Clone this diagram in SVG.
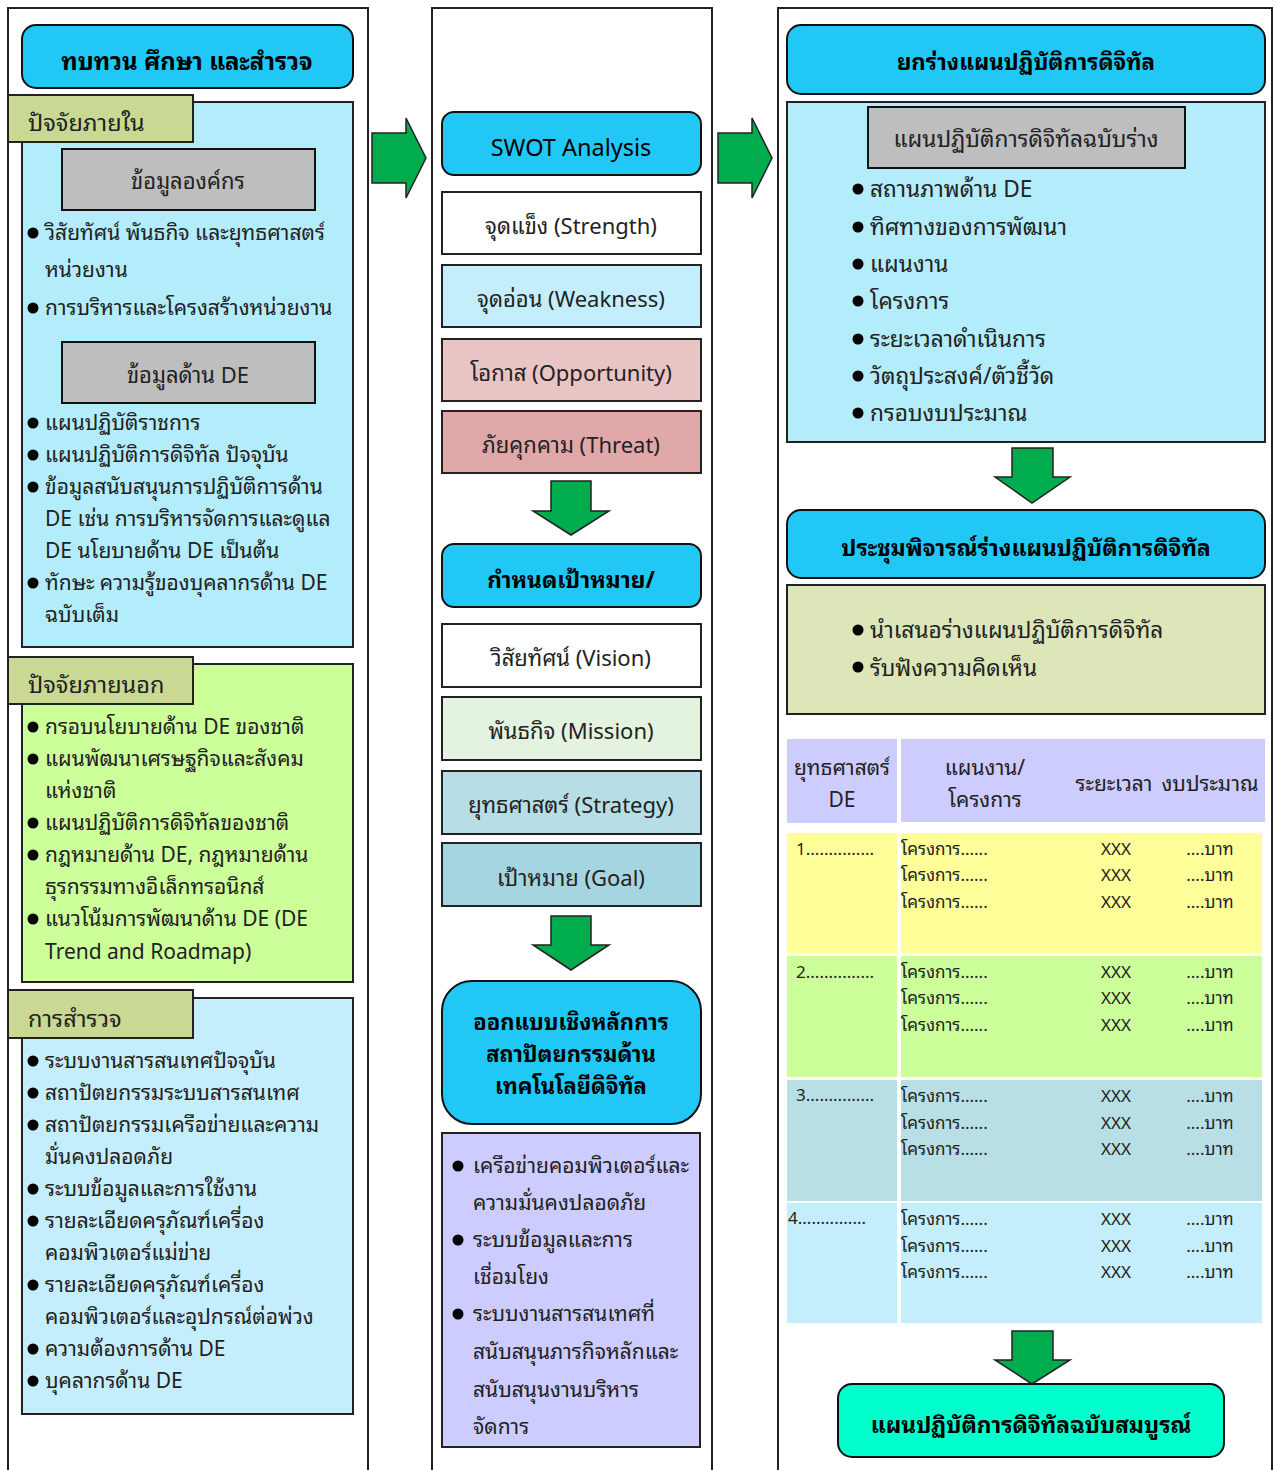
<svg xmlns="http://www.w3.org/2000/svg" width="1277" height="1470" viewBox="0 0 1277 1470">
<style>
text{font-family:"Noto Sans Thai Looped","Loma","Garuda","Noto Sans Thai","Noto Sans","DejaVu Sans",sans-serif;font-size:21px;fill:#222}
.b{font-weight:bold;fill:#000;font-size:22.7px}
.c{text-anchor:middle}
.col{fill:#fff;stroke:#222;stroke-width:2}
.hd{fill:#22C8F5;stroke:#111;stroke-width:2}
.lbl{fill:#C9D994;stroke:#222;stroke-width:2}
.bx{stroke:#222;stroke-width:2}
.gr{fill:#BEBEBE;stroke:#111;stroke-width:2}
.arr{fill:#00AC4E;stroke:#222;stroke-width:1.5}
.t{font-size:17px}
.lt{font-size:23.5px}
.m{font-size:22px}
.r{font-size:22.7px}
.th{font-size:21px}
.d{font-size:22px}
</style>
<g id="columns">
<rect class="col" x="8" y="8" width="360" height="1470"/>
<rect class="col" x="432" y="8" width="280" height="1470"/>
<rect class="col" x="778" y="8" width="494" height="1470"/>
</g>
<g id="connectors">
<path class="arr" d="M372,133 H406 V118 L426,158 L406,198 V183 H372 Z"/>
<path class="arr" d="M718,133 H752 V118 L772,158 L752,198 V183 H718 Z"/>
<path class="arr" d="M551,481 H591 V511 H609 L571,535 L533,511 H551 Z"/>
<path class="arr" d="M551,916 H591 V945 H609 L571,970 L533,945 H551 Z"/>
<path class="arr" d="M1012,448 H1053 V477 H1070 L1032,503 L995,477 H1012 Z"/>
<path class="arr" d="M1012,1331 H1053 V1360 H1070 L1032,1384 L995,1360 H1012 Z"/>
</g>
<g id="review">
<rect class="hd" x="22" y="25" width="331" height="63" rx="14"/>
<text class="b c" x="187" y="70" style="font-size:24px">ทบทวน ศึกษา และสำรวจ</text>
</g>
<g id="internal">
<rect class="bx" fill="#B3ECFA" x="22" y="102" width="331" height="545"/>
<rect class="lbl" x="8" y="95" width="185" height="47"/>
<text class="lt" x="28" y="131">ปัจจัยภายใน</text>
<rect class="gr" x="62" y="149" width="253" height="61"/>
<text class="c m" x="188" y="189">ข้อมูลองค์กร</text>
<g>
<circle cx="33" cy="233" r="5.5"/><text x="45" y="240">วิสัยทัศน์ พันธกิจ และยุทธศาสตร์</text>
<text x="45" y="277">หน่วยงาน</text>
<circle cx="33" cy="308" r="5.5"/><text x="45" y="315">การบริหารและโครงสร้างหน่วยงาน</text>
</g>
<rect class="gr" x="62" y="342" width="253" height="61"/>
<text class="c m" x="188" y="383">ข้อมูลด้าน DE</text>
<g>
<circle cx="33" cy="423" r="5.5"/><text x="45" y="430">แผนปฏิบัติราชการ</text>
<circle cx="33" cy="455" r="5.5"/><text x="45" y="462">แผนปฏิบัติการดิจิทัล ปัจจุบัน</text>
<circle cx="33" cy="487" r="5.5"/><text x="45" y="494">ข้อมูลสนับสนุนการปฏิบัติการด้าน</text>
<text x="45" y="526">DE เช่น การบริหารจัดการและดูแล</text>
<text x="45" y="558">DE นโยบายด้าน DE เป็นต้น</text>
<circle cx="33" cy="583" r="5.5"/><text x="45" y="590">ทักษะ ความรู้ของบุคลากรด้าน DE</text>
<text x="45" y="622">ฉบับเต็ม</text>
</g>
</g>
<g id="external">
<rect class="bx" fill="#CCFF99" x="22" y="664" width="331" height="318"/>
<rect class="lbl" x="8" y="657" width="185" height="47"/>
<text class="lt" x="28" y="693">ปัจจัยภายนอก</text>
<circle cx="33" cy="727" r="5.5"/><text x="45" y="734">กรอบนโยบายด้าน DE ของชาติ</text>
<circle cx="33" cy="759" r="5.5"/><text x="45" y="766">แผนพัฒนาเศรษฐกิจและสังคม</text>
<text x="45" y="798">แห่งชาติ</text>
<circle cx="33" cy="823" r="5.5"/><text x="45" y="830">แผนปฏิบัติการดิจิทัลของชาติ</text>
<circle cx="33" cy="855" r="5.5"/><text x="45" y="862">กฎหมายด้าน DE, กฎหมายด้าน</text>
<text x="45" y="894">ธุรกรรมทางอิเล็กทรอนิกส์</text>
<circle cx="33" cy="919" r="5.5"/><text x="45" y="926">แนวโน้มการพัฒนาด้าน DE (DE</text>
<text x="45" y="959">Trend and Roadmap)</text>
</g>
<g id="survey">
<rect class="bx" fill="#C5EEFC" x="22" y="998" width="331" height="416"/>
<rect class="lbl" x="8" y="990" width="185" height="48"/>
<text class="lt" x="28" y="1027">การสำรวจ</text>
<circle cx="33" cy="1061" r="5.5"/><text x="45" y="1068">ระบบงานสารสนเทศปัจจุบัน</text>
<circle cx="33" cy="1093" r="5.5"/><text x="45" y="1100">สถาปัตยกรรมระบบสารสนเทศ</text>
<circle cx="33" cy="1125" r="5.5"/><text x="45" y="1132">สถาปัตยกรรมเครือข่ายและความ</text>
<text x="45" y="1164">มั่นคงปลอดภัย</text>
<circle cx="33" cy="1189" r="5.5"/><text x="45" y="1196">ระบบข้อมูลและการใช้งาน</text>
<circle cx="33" cy="1221" r="5.5"/><text x="45" y="1228">รายละเอียดครุภัณฑ์เครื่อง</text>
<text x="45" y="1260">คอมพิวเตอร์แม่ข่าย</text>
<circle cx="33" cy="1285" r="5.5"/><text x="45" y="1292">รายละเอียดครุภัณฑ์เครื่อง</text>
<text x="45" y="1324">คอมพิวเตอร์และอุปกรณ์ต่อพ่วง</text>
<circle cx="33" cy="1349" r="5.5"/><text x="45" y="1356">ความต้องการด้าน DE</text>
<circle cx="33" cy="1381" r="5.5"/><text x="45" y="1388">บุคลากรด้าน DE</text>
</g>
<g id="swot">
<rect class="hd" x="442" y="112" width="259" height="63" rx="12"/>
<text class="c" x="571" y="156" style="font-size:23.5px;fill:#000">SWOT Analysis</text>
</g>
<g id="strength"><rect class="bx" fill="#fff" x="442" y="192" width="259" height="62"/><text class="c m" x="571" y="234">จุดแข็ง (Strength)</text></g>
<g id="weakness"><rect class="bx" fill="#C5EEFC" x="442" y="265" width="259" height="62"/><text class="c m" x="571" y="307">จุดอ่อน (Weakness)</text></g>
<g id="opportunity"><rect class="bx" fill="#E8C4C4" x="442" y="339" width="259" height="62"/><text class="c m" x="571" y="381">โอกาส (Opportunity)</text></g>
<g id="threat"><rect class="bx" fill="#E0A8A8" x="442" y="411" width="259" height="62"/><text class="c m" x="571" y="453">ภัยคุกคาม (Threat)</text></g>
<g id="goal-set">
<rect class="hd" x="442" y="544" width="259" height="63" rx="12"/>
<text class="b c" x="571" y="588">กำหนดเป้าหมาย/</text>
</g>
<g id="vision"><rect class="bx" fill="#fff" x="442" y="624" width="259" height="63"/><text class="c m" x="571" y="666">วิสัยทัศน์ (Vision)</text></g>
<g id="mission"><rect class="bx" fill="#E4F2E0" x="442" y="697" width="259" height="63"/><text class="c m" x="571" y="739">พันธกิจ (Mission)</text></g>
<g id="strategy"><rect class="bx" fill="#B7DEE6" x="442" y="771" width="259" height="63"/><text class="c m" x="571" y="813">ยุทธศาสตร์ (Strategy)</text></g>
<g id="goal"><rect class="bx" fill="#A5D5E0" x="442" y="843" width="259" height="63"/><text class="c m" x="571" y="886">เป้าหมาย (Goal)</text></g>
<g id="design">
<rect class="hd" x="442" y="981" width="259" height="143" rx="30"/>
<text class="b c d" x="571" y="1030">ออกแบบเชิงหลักการ</text>
<text class="b c d" x="571" y="1062">สถาปัตยกรรมด้าน</text>
<text class="b c d" x="571" y="1094">เทคโนโลยีดิจิทัล</text>
</g>
<g id="design-items">
<rect class="bx" fill="#CCCCFF" x="442" y="1133" width="258" height="314"/>
<circle cx="458" cy="1166" r="5.5"/><text class="th" x="473" y="1173">เครือข่ายคอมพิวเตอร์และ</text>
<text x="473" y="1210">ความมั่นคงปลอดภัย</text>
<circle cx="458" cy="1240" r="5.5"/><text x="473" y="1247">ระบบข้อมูลและการ</text>
<text x="473" y="1284">เชื่อมโยง</text>
<circle cx="458" cy="1314" r="5.5"/><text x="473" y="1321">ระบบงานสารสนเทศที่</text>
<text x="473" y="1359">สนับสนุนภารกิจหลักและ</text>
<text x="473" y="1397">สนับสนุนงานบริหาร</text>
<text x="473" y="1434">จัดการ</text>
</g>
<g id="draft">
<rect class="hd" x="787" y="25" width="478" height="69" rx="14"/>
<text class="b c" x="1026" y="70" style="font-size:22.3px">ยกร่างแผนปฏิบัติการดิจิทัล</text>
</g>
<g id="draft-items">
<rect class="bx" fill="#B3ECFA" x="787" y="102" width="478" height="340"/>
<rect class="gr" x="868" y="107" width="317" height="61"/>
<text class="c r" x="1026" y="147">แผนปฏิบัติการดิจิทัลฉบับร่าง</text>
<circle cx="858" cy="189" r="5.5"/><text class="r" x="870" y="197">สถานภาพด้าน DE</text>
<circle cx="858" cy="227" r="5.5"/><text class="r" x="870" y="235">ทิศทางของการพัฒนา</text>
<circle cx="858" cy="264" r="5.5"/><text class="r" x="870" y="272">แผนงาน</text>
<circle cx="858" cy="301" r="5.5"/><text class="r" x="870" y="309">โครงการ</text>
<circle cx="858" cy="339" r="5.5"/><text class="r" x="870" y="347">ระยะเวลาดำเนินการ</text>
<circle cx="858" cy="376" r="5.5"/><text class="r" x="870" y="384">วัตถุประสงค์/ตัวชี้วัด</text>
<circle cx="858" cy="413" r="5.5"/><text class="r" x="870" y="421">กรอบงบประมาณ</text>
</g>
<g id="meeting">
<rect class="hd" x="787" y="510" width="478" height="68" rx="14"/>
<text class="b c" x="1026" y="556">ประชุมพิจารณ์ร่างแผนปฏิบัติการดิจิทัล</text>
</g>
<g id="meeting-items">
<rect class="bx" fill="#DCE6B8" x="787" y="585" width="478" height="129"/>
<circle cx="858" cy="630" r="5.5"/><text class="r" x="870" y="638">นำเสนอร่างแผนปฏิบัติการดิจิทัล</text>
<circle cx="858" cy="667" r="5.5"/><text class="r" x="870" y="676">รับฟังความคิดเห็น</text>
</g>
<g id="plan-table">
<rect fill="#CCCCFF" x="787" y="739" width="110" height="84"/>
<rect fill="#CCCCFF" x="901" y="739" width="364" height="83"/>
<text class="c" x="842" y="775">ยุทธศาสตร์</text>
<text class="c" x="842" y="807">DE</text>
<text class="c" x="985" y="775">แผนงาน/</text>
<text class="c" x="985" y="807">โครงการ</text>
<text class="c" x="1114" y="791">ระยะเวลา</text>
<text class="c" x="1210" y="791">งบประมาณ</text>
<rect fill="#FFFF99" x="787" y="833" width="110" height="120"/>
<rect fill="#FFFF99" x="901" y="833" width="361" height="120"/>
<rect fill="#CCFF99" x="787" y="956" width="110" height="121"/>
<rect fill="#CCFF99" x="901" y="956" width="361" height="121"/>
<rect fill="#B8DFE6" x="787" y="1080" width="110" height="121"/>
<rect fill="#B8DFE6" x="901" y="1080" width="361" height="121"/>
<rect fill="#C5EEFC" x="787" y="1203" width="110" height="120"/>
<rect fill="#C5EEFC" x="901" y="1203" width="361" height="120"/>
<text class="t" x="796" y="855">1...............</text>
<text class="t" x="796" y="978">2...............</text>
<text class="t" x="796" y="1101">3...............</text>
<text class="t" x="788" y="1224">4...............</text>
<text class="t" x="901" y="855">โครงการ......</text><text class="t c" x="1116" y="855">XXX</text><text class="t c" x="1210" y="855">....บาท</text>
<text class="t" x="901" y="881">โครงการ......</text><text class="t c" x="1116" y="881">XXX</text><text class="t c" x="1210" y="881">....บาท</text>
<text class="t" x="901" y="908">โครงการ......</text><text class="t c" x="1116" y="908">XXX</text><text class="t c" x="1210" y="908">....บาท</text>
<text class="t" x="901" y="978">โครงการ......</text><text class="t c" x="1116" y="978">XXX</text><text class="t c" x="1210" y="978">....บาท</text>
<text class="t" x="901" y="1004">โครงการ......</text><text class="t c" x="1116" y="1004">XXX</text><text class="t c" x="1210" y="1004">....บาท</text>
<text class="t" x="901" y="1031">โครงการ......</text><text class="t c" x="1116" y="1031">XXX</text><text class="t c" x="1210" y="1031">....บาท</text>
<text class="t" x="901" y="1102">โครงการ......</text><text class="t c" x="1116" y="1102">XXX</text><text class="t c" x="1210" y="1102">....บาท</text>
<text class="t" x="901" y="1129">โครงการ......</text><text class="t c" x="1116" y="1129">XXX</text><text class="t c" x="1210" y="1129">....บาท</text>
<text class="t" x="901" y="1155">โครงการ......</text><text class="t c" x="1116" y="1155">XXX</text><text class="t c" x="1210" y="1155">....บาท</text>
<text class="t" x="901" y="1225">โครงการ......</text><text class="t c" x="1116" y="1225">XXX</text><text class="t c" x="1210" y="1225">....บาท</text>
<text class="t" x="901" y="1252">โครงการ......</text><text class="t c" x="1116" y="1252">XXX</text><text class="t c" x="1210" y="1252">....บาท</text>
<text class="t" x="901" y="1278">โครงการ......</text><text class="t c" x="1116" y="1278">XXX</text><text class="t c" x="1210" y="1278">....บาท</text>
</g>
<g id="final">
<rect fill="#00FFCC" stroke="#111" stroke-width="2" x="838" y="1384" width="386" height="73" rx="14"/>
<text class="b c" x="1031" y="1433">แผนปฏิบัติการดิจิทัลฉบับสมบูรณ์</text>
</g>
</svg>
